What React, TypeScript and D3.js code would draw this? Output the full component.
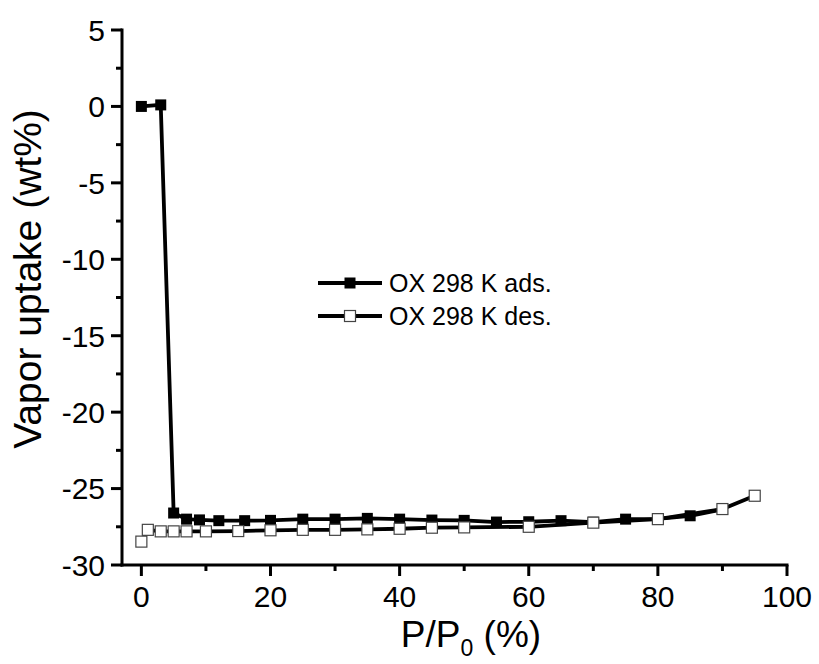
import React from "react";
import * as d3 from "d3";

const adsX = [0, 3, 5, 7, 9, 12, 16, 20, 25, 30, 35, 40, 45, 50, 55, 60, 65, 70, 75, 80, 85, 90];
const adsY = [0, 0.1, -26.6, -27.0, -27.05, -27.1, -27.1, -27.08, -27.0, -27.0, -26.95, -27.0, -27.06, -27.08, -27.19, -27.17, -27.1, -27.2, -27.0, -26.98, -26.78, -26.36];
const desX = [0, 1, 3, 5, 7, 10, 15, 20, 25, 30, 35, 40, 45, 50, 60, 70, 80, 90, 95];
const desY = [-28.47, -27.7, -27.8, -27.8, -27.8, -27.8, -27.78, -27.73, -27.7, -27.7, -27.67, -27.63, -27.56, -27.54, -27.5, -27.23, -27.0, -26.34, -25.47];
const xTicks = [0, 20, 40, 60, 80, 100];
const xMinor = [10, 30, 50, 70, 90];
const yTicks = [5, 0, -5, -10, -15, -20, -25, -30];
const yMinor = [2.5, -2.5, -7.5, -12.5, -17.5, -22.5, -27.5];
const seriesLabels = ["OX 298 K ads.", "OX 298 K des."];

const FONT = "'Liberation Sans', Arial, sans-serif";

export default function App() {
  const x = d3.scaleLinear().domain([-3, 100]).range([122, 787]);
  const y = d3.scaleLinear().domain([-30, 5]).range([565, 30]);
  const line = d3.line<[number, number]>().x((d) => x(d[0])).y((d) => y(d[1]));
  const ads: [number, number][] = adsX.map((v, i) => [v, adsY[i]]);
  const des: [number, number][] = desX.map((v, i) => [v, desY[i]]);
  const ms = 11;
  const x0 = x.range()[0];
  const y0 = y.range()[0];
  return (
    <svg width={819} height={664} style={{ position: "absolute", left: 0, top: 0, background: "#fff" }} fontFamily={FONT}>
      <rect width={819} height={664} fill="#fff" />
      {/* axes */}
      <line x1={x0} x2={x0} y1={y(5) - 1.5} y2={y0 + 1.5} stroke="#000" strokeWidth={3} />
      <line x1={x0 - 1.5} x2={x(100) + 1.5} y1={y0} y2={y0} stroke="#000" strokeWidth={3} />
      {yTicks.map((t) => (
        <g key={"yt" + t}>
          <line x1={x0 - 11} x2={x0} y1={y(t)} y2={y(t)} stroke="#000" strokeWidth={3} />
          <text x={x0 - 17} y={y(t)} dy="0.36em" textAnchor="end" fontSize={30}>{t}</text>
        </g>
      ))}
      {yMinor.map((t) => (
        <line key={"ym" + t} x1={x0 - 6} x2={x0} y1={y(t)} y2={y(t)} stroke="#000" strokeWidth={3} />
      ))}
      {xTicks.map((t) => (
        <g key={"xt" + t}>
          <line x1={x(t)} x2={x(t)} y1={y0} y2={y0 + 11} stroke="#000" strokeWidth={3} />
          <text x={x(t)} y={y0 + 42} textAnchor="middle" fontSize={30}>{t}</text>
        </g>
      ))}
      {xMinor.map((t) => (
        <line key={"xm" + t} x1={x(t)} x2={x(t)} y1={y0} y2={y0 + 6} stroke="#000" strokeWidth={3} />
      ))}
      {/* titles */}
      <text x={471} y={647} textAnchor="middle" fontSize={37}>
        P/P<tspan fontSize={23} dy={9}>0</tspan><tspan dy={-9}> (%)</tspan>
      </text>
      <text transform="translate(41,279) rotate(-90)" textAnchor="middle" fontSize={39}>Vapor uptake (wt%)</text>
      {/* series */}
      <path d={line(ads) || ""} fill="none" stroke="#000" strokeWidth={3.8} />
      {ads.map((d, i) => (
        <rect key={"a" + i} x={x(d[0]) - ms / 2} y={y(d[1]) - ms / 2} width={ms} height={ms} fill="#000" />
      ))}
      <path d={line(des) || ""} fill="none" stroke="#000" strokeWidth={3.8} />
      {des.map((d, i) => (
        <rect key={"d" + i} x={x(d[0]) - ms / 2} y={y(d[1]) - ms / 2} width={ms} height={ms} fill="#fff" stroke="#444" strokeWidth={1.2} />
      ))}
      {/* legend */}
      {seriesLabels.map((s, i) => {
        const ly = 283 + i * 33;
        return (
          <g key={s}>
            <line x1={318} x2={382} y1={ly} y2={ly} stroke="#000" strokeWidth={3.8} />
            {i === 0 ? (
              <rect x={350 - ms / 2} y={ly - ms / 2} width={ms} height={ms} fill="#000" />
            ) : (
              <rect x={350 - ms / 2} y={ly - ms / 2} width={ms} height={ms} fill="#fff" stroke="#444" strokeWidth={1.2} />
            )}
            <text x={389} y={ly + 9} fontSize={25}>{s}</text>
          </g>
        );
      })}
    </svg>
  );
}
